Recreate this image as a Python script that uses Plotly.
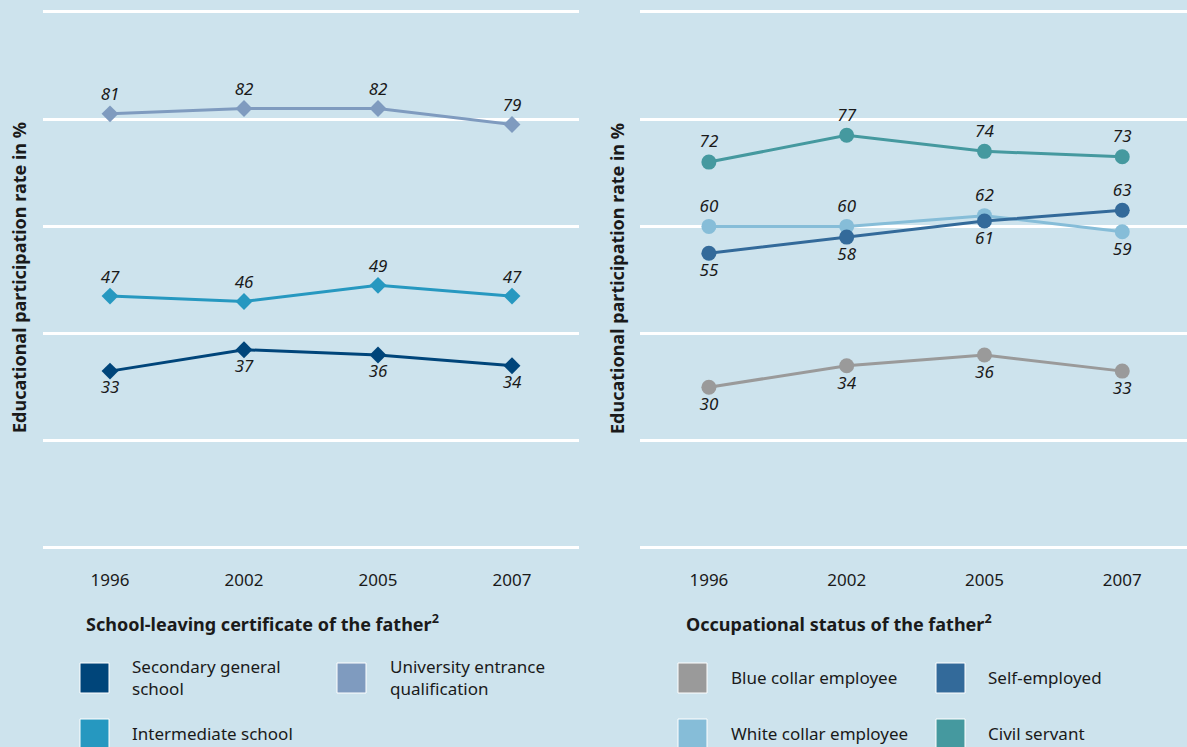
import plotly.graph_objects as go

W, H = 1187, 747

years = ["1996", "2002", "2005", "2007"]

# Left panel: school-leaving certificate of the father
school_names = ["Secondary general school", "Intermediate school", "University entrance qualification"]
secondary = [33, 37, 36, 34]
intermediate = [47, 46, 49, 47]
university = [81, 82, 82, 79]

# Right panel: occupational status of the father
occ_names = ["Blue collar employee", "White collar employee", "Self-employed", "Civil servant"]
blue_collar = [30, 34, 36, 33]
white_collar = [60, 60, 62, 59]
self_employed = [55, 58, 61, 63]
civil_servant = [72, 77, 74, 73]

# styles
BG = "#cde3ed"
TXT = "#1a1a1a"
FONT = "Noto Sans"
c_secondary = "#00457a"
c_intermediate = "#2698c0"
c_university = "#7f9bbf"
c_blue = "#9a9a9a"
c_white = "#86bdd8"
c_self = "#336a9a"
c_civil = "#45999f"

T, B = "top center", "bottom center"

def px(x):
    return x / W

def py(y):
    return 1 - y / H

fig = go.Figure()

def add(series, name, color, symbol, size, pos, xa, ya):
    fig.add_trace(go.Scatter(
        x=years, y=series, name=name, mode="lines+markers+text",
        line=dict(color=color, width=3),
        marker=dict(color=color, symbol=symbol, size=size),
        text=[str(v) for v in series], textposition=pos,
        textfont=dict(family=FONT, size=17, color=TXT, style="italic"),
        xaxis=xa, yaxis=ya, showlegend=False, cliponaxis=False,
    ))

add(university, school_names[2], c_university, "diamond", 13, [T, T, T, T], "x", "y")
add(intermediate, school_names[1], c_intermediate, "diamond", 13, [T, T, T, T], "x", "y")
add(secondary, school_names[0], c_secondary, "diamond", 13, [B, B, B, B], "x", "y")

add(civil_servant, occ_names[3], c_civil, "circle", 15, [T, T, T, T], "x2", "y2")
add(white_collar, occ_names[1], c_white, "circle", 15, [T, T, T, B], "x2", "y2")
add(self_employed, occ_names[2], c_self, "circle", 15, [B, B, B, T], "x2", "y2")
add(blue_collar, occ_names[0], c_blue, "circle", 15, [B, B, B, B], "x2", "y2")

PAD = 0.4
PPU = (548 - 12) / 100.0
ydom = [py(548 + PAD * PPU), py(12 - PAD * PPU)]

xcommon = dict(type="category", showgrid=False, zeroline=False, showline=False,
               ticks="outside", ticklen=14, tickcolor="rgba(0,0,0,0)",
               tickfont=dict(family=FONT, size=17, color=TXT))
ycommon = dict(range=[-PAD, 100 + PAD], tickvals=[0, 20, 40, 60, 80, 100], showticklabels=False,
               showgrid=True, gridcolor="white", gridwidth=2.5, zeroline=False,
               showline=False, ticks="", domain=ydom)

fig.update_layout(
    width=W, height=H, margin=dict(l=0, r=0, t=0, b=0),
    paper_bgcolor=BG, plot_bgcolor=BG,
    xaxis=dict(**xcommon, domain=[px(43), px(579)], range=[-0.5, 3.5], anchor="y"),
    yaxis=dict(**ycommon, anchor="x"),
    xaxis2=dict(**xcommon, domain=[px(640), 1.0], range=[-0.5, 3.47], anchor="y2"),
    yaxis2=dict(**ycommon, anchor="x2"),
    font=dict(family=FONT, color=TXT),
)

ann = []
shapes = []
ytitle = "Educational participation rate in %"
for xx in (19, 617):
    ann.append(dict(x=px(xx), y=py(278), xref="paper", yref="paper", text="<b>" + ytitle + "</b>",
                    xanchor="center", yanchor="middle",
                    textangle=-90, showarrow=False, font=dict(family=FONT, size=18, color=TXT)))

ann.append(dict(x=px(84), y=py(623), xref="paper", yref="paper", xanchor="left", yanchor="middle",
                text="<b>School-leaving certificate of the father<sup>2</sup></b>", showarrow=False,
                font=dict(family=FONT, size=18, color=TXT)))
ann.append(dict(x=px(684), y=py(623), xref="paper", yref="paper", xanchor="left", yanchor="middle",
                text="<b>Occupational status of the father<sup>2</sup></b>", showarrow=False,
                font=dict(family=FONT, size=18, color=TXT)))

def legend_item(x0, y0, color, label, tx):
    shapes.append(dict(type="rect", xref="paper", yref="paper",
                       x0=px(x0), x1=px(x0 + 29), y0=py(y0 + 30), y1=py(y0),
                       fillcolor=color, line=dict(color="white", width=1)))
    ann.append(dict(x=px(tx), y=py(y0 + 14), xref="paper", yref="paper", xanchor="left",
                    yanchor="middle", align="left", text=label, showarrow=False,
                    font=dict(family=FONT, size=17, color=TXT)))

legend_item(80, 663, c_secondary, "Secondary general<br>school", 130)
legend_item(337, 663, c_university, "University entrance<br>qualification", 388)
legend_item(80, 719, c_intermediate, school_names[1], 130)

legend_item(678, 663, c_blue, occ_names[0], 729)
legend_item(936, 663, c_self, occ_names[2], 986)
legend_item(678, 719, c_white, occ_names[1], 729)
legend_item(936, 719, c_civil, occ_names[3], 986)

fig.update_layout(annotations=ann, shapes=shapes)
fig.write_html("out.html", config={"displayModeBar": False},
               post_script="document.body.style.margin='0';document.body.style.padding='0';"
                           "document.body.style.overflow='hidden';")
